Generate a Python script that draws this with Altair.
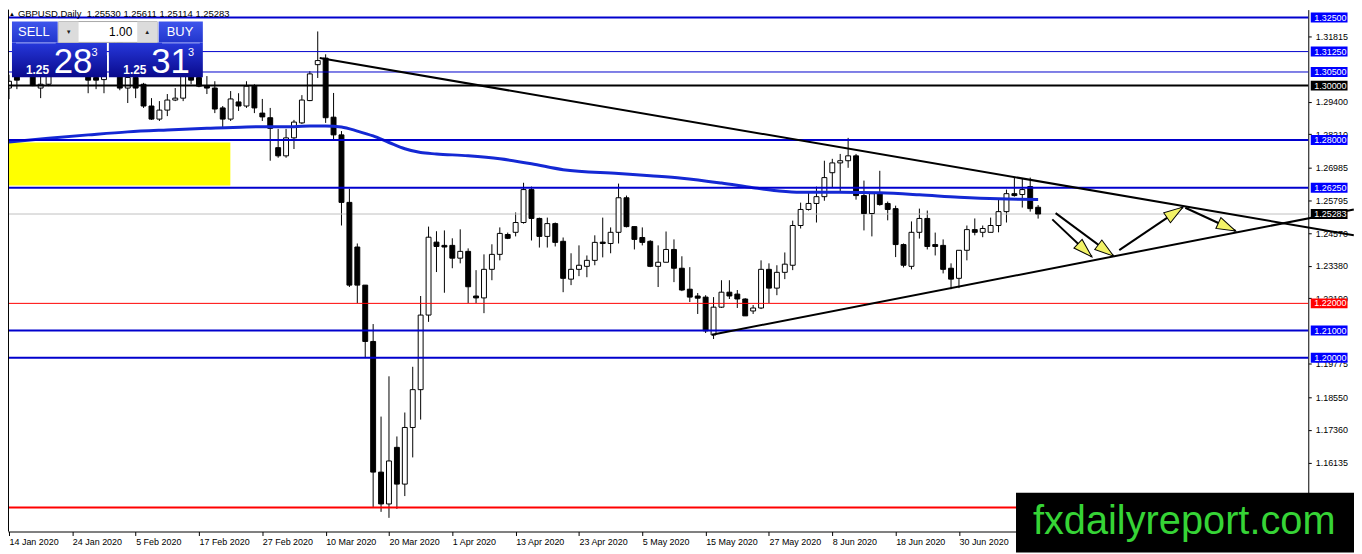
import math
import altair as alt
import pandas as pd

# ---------------- data ----------------
opens = [
    1.2991, 1.3050, 1.3045, 1.3073, 1.2991, 1.3005, 1.3043, 1.3141, 1.3123, 1.3074,
    1.3065, 1.3030, 1.3022, 1.3110, 1.3200, 1.2991, 1.3030, 1.3005, 1.2925, 1.2877,
    1.2910, 1.2947, 1.2954, 1.3045, 1.3030, 1.2998, 1.2991, 1.2918, 1.2877, 1.2940,
    1.2925, 1.2998, 1.2899, 1.2882, 1.2772, 1.2742, 1.2808, 1.2863, 1.2945, 1.3077,
    1.3101, 1.2884, 1.2819, 1.2571, 1.2407, 1.2267, 1.2060, 1.1580, 1.1463, 1.1671,
    1.1536, 1.1744, 1.1883, 1.2157, 1.2425, 1.2413, 1.2413, 1.2366, 1.2391, 1.2227,
    1.2220, 1.2325, 1.2380, 1.2453, 1.2461, 1.2497, 1.2618, 1.2512, 1.2446, 1.2493,
    1.2428, 1.2289, 1.2325, 1.2336, 1.2358, 1.2425, 1.2420, 1.2461, 1.2588, 1.2482,
    1.2442, 1.2428, 1.2336, 1.2351, 1.2398, 1.2329, 1.2252, 1.2227, 1.2223, 1.2084,
    1.2186, 1.2241, 1.2234, 1.2216, 1.2172, 1.2183, 1.2325, 1.2256, 1.2314, 1.2340,
    1.2486, 1.2545, 1.2567, 1.2592, 1.2680, 1.2716, 1.2724, 1.2742, 1.2596, 1.2530,
    1.2603, 1.2567, 1.2548, 1.2416, 1.2336, 1.2461, 1.2512, 1.2416, 1.2413, 1.2329,
    1.2292, 1.2395, 1.2471, 1.2461, 1.2461, 1.2486, 1.2537, 1.2603, 1.2600, 1.2629,
    1.25530,
]
highs = [
    1.3040, 1.3063, 1.3118, 1.3119, 1.3040, 1.3074, 1.3151, 1.3152, 1.3148, 1.3100,
    1.3070, 1.3053, 1.3150, 1.3208, 1.3205, 1.3050, 1.3040, 1.3010, 1.2954, 1.2943,
    1.2969, 1.2991, 1.3070, 1.3068, 1.3050, 1.3035, 1.3016, 1.2925, 1.2980, 1.2972,
    1.3016, 1.3005, 1.2951, 1.2918, 1.2841, 1.2841, 1.2874, 1.2965, 1.3053, 1.3199,
    1.3115, 1.2973, 1.2833, 1.2621, 1.2420, 1.2267, 1.2124, 1.1784, 1.1932, 1.1711,
    1.1799, 1.1967, 1.2227, 1.2482, 1.2465, 1.2468, 1.2439, 1.2472, 1.2402, 1.2322,
    1.2380, 1.2417, 1.2479, 1.2460, 1.2534, 1.2643, 1.2629, 1.2515, 1.2515, 1.2497,
    1.2442, 1.2384, 1.2413, 1.2376, 1.2450, 1.2515, 1.2479, 1.2640, 1.2596, 1.2482,
    1.2479, 1.2432, 1.2413, 1.2464, 1.2435, 1.2373, 1.2333, 1.2238, 1.2230, 1.2223,
    1.2285, 1.2285, 1.2249, 1.2219, 1.2194, 1.2358, 1.2347, 1.2340, 1.2387, 1.2504,
    1.2570, 1.2607, 1.2629, 1.2724, 1.2731, 1.2749, 1.2808, 1.2749, 1.2651, 1.2607,
    1.2687, 1.2574, 1.2559, 1.2420, 1.2501, 1.2548, 1.2541, 1.2460, 1.2435, 1.2347,
    1.2395, 1.2486, 1.2512, 1.2486, 1.2515, 1.2585, 1.2618, 1.2662, 1.2658, 1.2662,
    1.25611,
]
lows = [
    1.2950, 1.2987, 1.3038, 1.2998, 1.2954, 1.2998, 1.3035, 1.3080, 1.3050, 1.3040,
    1.2972, 1.2987, 1.2972, 1.3080, 1.2983, 1.2936, 1.2954, 1.2918, 1.2874, 1.2870,
    1.2888, 1.2943, 1.2943, 1.3005, 1.2994, 1.2969, 1.2899, 1.2845, 1.2870, 1.2907,
    1.2918, 1.2899, 1.2870, 1.2724, 1.2735, 1.2735, 1.2767, 1.2859, 1.2943, 1.3028,
    1.2863, 1.2800, 1.2486, 1.2260, 1.2201, 1.1999, 1.1452, 1.1434, 1.1412, 1.1445,
    1.1492, 1.1634, 1.1773, 1.2132, 1.2315, 1.2239, 1.2329, 1.2347, 1.2201, 1.2201,
    1.2164, 1.2285, 1.2358, 1.2436, 1.2446, 1.2493, 1.2431, 1.2405, 1.2405, 1.2409,
    1.2241, 1.2267, 1.2300, 1.2296, 1.2340, 1.2369, 1.2384, 1.2420, 1.2479, 1.2398,
    1.2413, 1.2333, 1.2260, 1.2351, 1.2278, 1.2245, 1.2205, 1.2161, 1.2091, 1.2069,
    1.2183, 1.2216, 1.2183, 1.2154, 1.2161, 1.2179, 1.2201, 1.2230, 1.2289, 1.2322,
    1.2475, 1.2541, 1.2497, 1.2577, 1.2625, 1.2607, 1.2698, 1.2581, 1.2468, 1.2446,
    1.2559, 1.2505, 1.2370, 1.2332, 1.2325, 1.2438, 1.2398, 1.2376, 1.2310, 1.2252,
    1.2256, 1.2358, 1.2450, 1.2443, 1.2461, 1.2461, 1.2497, 1.2592, 1.2552, 1.2537,
    1.25114,
]
closes = [
    1.3016, 1.3020, 1.3073, 1.3000, 1.3005, 1.3043, 1.3141, 1.3123, 1.3074, 1.3065,
    1.3020, 1.3020, 1.3110, 1.3200, 1.2991, 1.3030, 1.2991, 1.2925, 1.2877, 1.2910,
    1.2947, 1.2954, 1.3045, 1.3020, 1.2998, 1.2991, 1.2914, 1.2877, 1.2951, 1.2925,
    1.2998, 1.2918, 1.2885, 1.2843, 1.2742, 1.2808, 1.2866, 1.2947, 1.3043, 1.3092,
    1.2882, 1.2819, 1.2571, 1.2267, 1.2267, 1.2060, 1.1580, 1.1463, 1.1621, 1.1536,
    1.1744, 1.1883, 1.2157, 1.2443, 1.2409, 1.2407, 1.2366, 1.2391, 1.2261, 1.2220,
    1.2325, 1.2380, 1.2457, 1.2439, 1.2497, 1.2618, 1.2512, 1.2446, 1.2493, 1.2424,
    1.2292, 1.2325, 1.2340, 1.2358, 1.2424, 1.2420, 1.2461, 1.2588, 1.2482, 1.2435,
    1.2424, 1.2336, 1.2351, 1.2398, 1.2329, 1.2249, 1.2223, 1.2219, 1.2099, 1.2186,
    1.2241, 1.2227, 1.2216, 1.2154, 1.2183, 1.2325, 1.2256, 1.2314, 1.2344, 1.2486,
    1.2545, 1.2567, 1.2592, 1.2662, 1.2716, 1.2724, 1.2742, 1.2596, 1.2530, 1.2603,
    1.2563, 1.2545, 1.2416, 1.2340, 1.2461, 1.2512, 1.2409, 1.2409, 1.2325, 1.2289,
    1.2395, 1.2471, 1.2461, 1.2475, 1.2486, 1.2537, 1.2603, 1.2596, 1.2618, 1.2548,
    1.25283,
]

date_labels = ["14 Jan 2020", "24 Jan 2020", "5 Feb 2020", "17 Feb 2020", "27 Feb 2020",
               "10 Mar 2020", "20 Mar 2020", "1 Apr 2020", "13 Apr 2020", "23 Apr 2020",
               "5 May 2020", "15 May 2020", "27 May 2020", "8 Jun 2020", "18 Jun 2020",
               "30 Jun 2020"]
bars_per_label = 8

ma_index = [0, 5, 10, 15, 20, 25, 30, 33, 36, 38, 40, 42, 44, 46, 48, 50, 52, 54, 58, 62,
            66, 70, 77, 81, 85, 90, 94, 97, 100, 105, 110, 115, 120, 125, 130]
ma_values = [1.2793, 1.2807, 1.2819, 1.2830, 1.2837, 1.2843, 1.2848, 1.2849, 1.2849, 1.2852,
             1.2852, 1.2848, 1.2833, 1.2815, 1.2791, 1.2768, 1.2754, 1.2749, 1.2742, 1.2731,
             1.2713, 1.2691, 1.2677, 1.2669, 1.2660, 1.2642, 1.2625, 1.2614, 1.2608, 1.2608,
             1.2606, 1.2599, 1.2590, 1.2584, 1.2582]

level_prices = [1.32500, 1.31250, 1.30500, 1.30000, 1.28000, 1.26250, 1.22000, 1.21000, 1.20000, 1.14500]
level_colors = ["#0000cd", "#0000cd", "#0000cd", "#000000", "#0000cd", "#0000cd", "#ff0000", "#0000cd", "#0000cd", "#ff0000"]
level_widths = [2, 1, 1, 2, 2, 2, 1, 2, 2, 2]
level_box_colors = ["#0000ff", "#0000ff", "#0000ff", "#000000", "#0000ff", "#0000ff", "#ff0000", "#0000ff", "#0000ff", "#ff0000"]
current_price = 1.25283

axis_tick_values = [1.31815, 1.29400, 1.28210, 1.26985, 1.25795, 1.24570, 1.23380, 1.22190,
                    1.19775, 1.18550, 1.17360, 1.16135, 1.14940]

trend_x1 = [39.25, 88.79]
trend_y1 = [1.31014, 1.20849]
trend_x2 = [169.875, 169.875]
trend_y2 = [1.24501, 1.25447]

arrow_x1 = [131.79, 132.21, 140.25, 148.59]
arrow_y1 = [1.25086, 1.25316, 1.23954, 1.25513]
arrow_x2 = [136.79, 139.54, 148.29, 154.96]
arrow_y2 = [1.23709, 1.23735, 1.25535, 1.24658]

zone_x = [-0.125, 27.96]
zone_y = [1.2633, 1.2791]

title_text = "GBPUSD,Daily \u00a01.25530 1.25611 1.25114 1.25283"
watermark_text = "fxdailyreport.com"

# ---------------- layout ----------------
W, H = 1308, 525
X_DOMAIN = [-0.125, 164.125]
Y_DOMAIN = [1.13618, 1.32792]
PX_PER_BAR = W / (X_DOMAIN[1] - X_DOMAIN[0])
PX_PER_PRICE = H / (Y_DOMAIN[1] - Y_DOMAIN[0])
FONT = "Liberation Sans, Arial, sans-serif"

xs = alt.Scale(domain=X_DOMAIN, nice=False, zero=False)
ys = alt.Scale(domain=Y_DOMAIN, nice=False, zero=False)

n = len(opens)
candles = pd.DataFrame({"i": list(range(n)), "o": opens, "h": highs, "l": lows, "c": closes})
candles["dir"] = ["down" if c < o else "up" for o, c in zip(opens, closes)]
candles["bx1"] = candles["i"] - 0.31
candles["bx2"] = candles["i"] + 0.31

label_js = "[" + ",".join("'" + s + "'" for s in date_labels) + "]"
x_axis = alt.Axis(values=list(range(0, bars_per_label * len(date_labels), bars_per_label)),
                  labelExpr=label_js + "[round(datum.value/" + str(bars_per_label) + ")]",
                  labelAlign="left", labelBaseline="top", labelPadding=2,
                  tickSize=4, labelFontSize=9, labelFont=FONT, labelColor="#000000",
                  domainColor="#000000", tickColor="#000000", grid=False, title=None,
                  labelFlush=False, labelOverlap=False)
y_axis = alt.Axis(orient="right", values=axis_tick_values, format=".5f", tickSize=3,
                  labelPadding=4, labelFontSize=9, labelFont=FONT, labelColor="#000000",
                  domainColor="#000000", tickColor="#000000", grid=False, title=None,
                  labelOverlap=False, labelFlush=False)

one = pd.DataFrame({"k": [0]})

# first layer: wicks, carries the shared axes
wicks = alt.Chart(candles).mark_rule(color="#000000", strokeWidth=1).encode(
    x=alt.X("i:Q", scale=xs, axis=x_axis), y=alt.Y("l:Q", scale=ys, axis=y_axis), y2="h:Q")

zone = alt.Chart(pd.DataFrame({"x1": [zone_x[0]], "x2": [zone_x[1]], "y1": [zone_y[0]], "y2": [zone_y[1]]})).mark_rect(
    color="#ffff00").encode(x=alt.X("x1:Q", scale=xs, axis=None), x2="x2:Q",
                            y=alt.Y("y1:Q", scale=ys, axis=None), y2="y2:Q")

price_line = alt.Chart(pd.DataFrame({"p": [current_price]})).mark_rule(color="#c0c0c0", strokeWidth=1).encode(
    y=alt.Y("p:Q", scale=ys, axis=None))

bodies = alt.Chart(candles).mark_rect(stroke="#000000", strokeWidth=1).encode(
    x=alt.X("bx1:Q", scale=xs, axis=None), x2="bx2:Q",
    y=alt.Y("o:Q", scale=ys, axis=None), y2="c:Q",
    fill=alt.Fill("dir:N", scale=alt.Scale(domain=["up", "down"], range=["#ffffff", "#000000"]), legend=None))

ma = alt.Chart(pd.DataFrame({"i": ma_index, "v": ma_values})).mark_line(
    color="#1428d4", strokeWidth=3, interpolate="monotone").encode(
    x=alt.X("i:Q", scale=xs, axis=None), y=alt.Y("v:Q", scale=ys, axis=None))

levels_df = pd.DataFrame({"p": level_prices, "col": level_colors, "w": level_widths})
levels = alt.Chart(levels_df).mark_rule().encode(
    y=alt.Y("p:Q", scale=ys, axis=None),
    color=alt.Color("col:N", scale=None, legend=None),
    strokeWidth=alt.StrokeWidth("w:Q", scale=None, legend=None))

trends = alt.Chart(pd.DataFrame({"x1": trend_x1, "y1": trend_y1, "x2": trend_x2, "y2": trend_y2})).mark_rule(
    color="#000000", strokeWidth=2, clip=False).encode(
    x=alt.X("x1:Q", scale=xs, axis=None), x2="x2:Q", y=alt.Y("y1:Q", scale=ys, axis=None), y2="y2:Q")

arrows_df = pd.DataFrame({"x1": arrow_x1, "y1": arrow_y1, "x2": arrow_x2, "y2": arrow_y2})
arrows_df["ang"] = [
    math.degrees(math.atan2((b - a) * PX_PER_BAR, (d - c) * PX_PER_PRICE)) % 360
    for a, b, c, d in zip(arrow_x1, arrow_x2, arrow_y1, arrow_y2)
]
shafts = alt.Chart(arrows_df).mark_rule(color="#000000", strokeWidth=2).encode(
    x=alt.X("x1:Q", scale=xs, axis=None), x2="x2:Q", y=alt.Y("y1:Q", scale=ys, axis=None), y2="y2:Q")
HEAD = "M0,0L0.75,2.4L-0.75,2.4Z"
heads = alt.Chart(arrows_df).mark_point(shape=HEAD, filled=True, fill="#f2f266", stroke="#000000",
                                        strokeWidth=1, size=256, opacity=1).encode(
    x=alt.X("x2:Q", scale=xs, axis=None), y=alt.Y("y2:Q", scale=ys, axis=None),
    angle=alt.Angle("ang:Q", scale=None))

box_df = pd.DataFrame({"p": level_prices + [current_price],
                       "bc": level_box_colors + ["#000000"],
                       "t": ["%.5f" % v for v in level_prices + [current_price]]})
BOX = "M-1,-0.27L1,-0.27L1,0.27L-1,0.27Z"
boxes = alt.Chart(box_df).mark_point(shape=BOX, filled=True, size=1369, opacity=1, strokeWidth=0).encode(
    x=alt.value(W + 21), y=alt.Y("p:Q", scale=ys, axis=None), fill=alt.Fill("bc:N", scale=None, legend=None))
box_text = alt.Chart(box_df).mark_text(align="left", baseline="middle", color="#ffffff", fontSize=9, font=FONT).encode(
    x=alt.value(W + 6), y=alt.Y("p:Q", scale=ys, axis=None), text="t:N")

left_border = alt.Chart(one).mark_rule(color="#000000", strokeWidth=1).encode(
    x=alt.value(0.5), y=alt.value(0), y2=alt.value(H))


def grad(c1, c2):
    return alt.LinearGradient(gradient="linear", x1=0, x2=0, y1=0, y2=1,
                              stops=[alt.GradientStop(color=c1, offset=0), alt.GradientStop(color=c2, offset=1)])


def box(x1, x2, y1, y2, **kw):
    return alt.Chart(one).mark_rect(**kw).encode(x=alt.value(x1), x2=alt.value(x2), y=alt.value(y1), y2=alt.value(y2))


def txt(s, x, y, **kw):
    kw.setdefault("font", FONT)
    return alt.Chart(one).mark_text(**kw).encode(x=alt.value(x), y=alt.value(y), text=alt.value(s))


panel = [
    box(4, 50, 12, 33, color=grad("#3e55ec", "#2236cc")),
    box(151.5, 196, 12, 33, color=grad("#3e55ec", "#2236cc")),
    box(4, 99.5, 33, 68, color=grad("#2638dc", "#0a0a8c")),
    box(101.5, 196, 33, 68, color=grad("#2638dc", "#0a0a8c")),
    box(51, 150, 12, 33, color="#ffffff", stroke="#a8a8a8", strokeWidth=1),
    box(51, 71, 12, 33, color="#dcdcdc"),
    box(130, 150, 12, 33, color="#dcdcdc"),
    box(8, 48, 33, 34, color="#8d9af0"),
    box(155, 193, 33, 34, color="#8d9af0"),
    txt("SELL", 26, 27, align="center", baseline="alphabetic", fontSize=13, color="#ffffff"),
    txt("BUY", 173, 27, align="center", baseline="alphabetic", fontSize=13, color="#ffffff"),
    txt("1.00", 125, 26.5, align="right", baseline="alphabetic", fontSize=12, color="#000000"),
    txt("\u25bc", 61, 24.5, align="center", baseline="alphabetic", fontSize=6, color="#202020"),
    txt("\u25b2", 140, 24.5, align="center", baseline="alphabetic", fontSize=6, color="#202020"),
    txt("1.25", 18, 64.5, align="left", baseline="alphabetic", fontSize=12, fontWeight="bold", color="#ffffff"),
    txt("28", 46, 64, align="left", baseline="alphabetic", fontSize=35, color="#ffffff"),
    txt("3", 84, 47, align="left", baseline="alphabetic", fontSize=11, color="#ffffff"),
    txt("1.25", 116, 64.5, align="left", baseline="alphabetic", fontSize=12, fontWeight="bold", color="#ffffff"),
    txt("31", 144, 64, align="left", baseline="alphabetic", fontSize=35, color="#ffffff"),
    txt("3", 181, 47, align="left", baseline="alphabetic", fontSize=11, color="#ffffff"),
]

title = [
    txt("\u25b2", 4, 6.5, align="center", baseline="alphabetic", fontSize=6, color="#000000"),
    txt(title_text, 10, 7, align="left", baseline="alphabetic", fontSize=9.5, color="#000000"),
]

watermark = [
    box(1014, 1354, 486, 546, color="#000000"),
    txt(watermark_text, 1031, 528, align="left", baseline="alphabetic", fontSize=40, color="#36d436"),
]

layers = [wicks, zone, price_line, bodies, ma, levels, trends, shafts, heads, boxes, box_text,
          left_border] + panel + title + watermark

chart = alt.layer(*layers).resolve_axis(x="independent", y="independent").properties(
    width=W, height=H,
    padding={"left": 0, "top": 0, "right": 46, "bottom": 21},
    autosize=alt.AutoSizeParams(type="none"),
    background="#ffffff",
).configure_view(stroke=None)

chart.save("out.html", embed_options={"renderer": "svg", "actions": False})
